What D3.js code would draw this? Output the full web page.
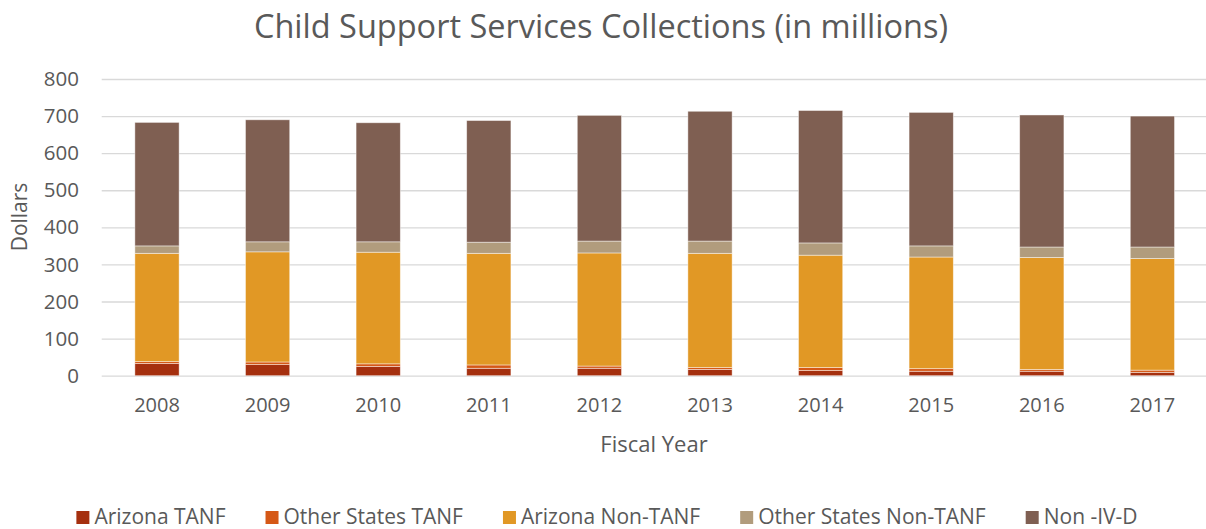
<!DOCTYPE html>
<html>
<head>
<meta charset="utf-8">
<script src="https://cdn.jsdelivr.net/npm/d3@7"></script>
<style>
  html, body { margin: 0; padding: 0; background: #fff; }
  svg { display: block; font-family: "Open Sans", "Noto Sans", sans-serif; }
</style>
</head>
<body>
<svg id="chart" width="1206" height="529"></svg>
<script>
// Fiscal years on the category axis
const years = ["2008", "2009", "2010", "2011", "2012", "2013", "2014", "2015", "2016", "2017"];

// Collections by source, in millions of dollars (stacked bottom to top)
const arizonaTanf        = [33, 30, 25, 20, 20, 17, 14, 12, 12, 9];
const otherStatesTanf    = [5, 7, 7, 9, 6, 5, 8, 7, 5, 6];
const arizonaNonTanf     = [292, 297, 301, 301, 305, 308, 303, 301, 302, 301];
const otherStatesNonTanf = [20, 27, 28, 30, 32, 33, 33, 30, 28, 31];
const nonIVD             = [333, 329, 321, 328, 339, 350, 357, 360, 356, 353];

const seriesNames = ["Arizona TANF", "Other States TANF", "Arizona Non-TANF", "Other States Non-TANF", "Non -IV-D"];
const seriesColors = ["#a5300f", "#d55816", "#e19825", "#b19c7d", "#7f5f52"];
const yTicks = [0, 100, 200, 300, 400, 500, 600, 700, 800];

const seriesValues = [arizonaTanf, otherStatesTanf, arizonaNonTanf, otherStatesNonTanf, nonIVD];
const rows = years.map((y, i) => {
  const r = { year: y };
  seriesNames.forEach((n, k) => { r[n] = seriesValues[k][i]; });
  return r;
});

const svg = d3.select("#chart");
const textColor = "#595959";

const plotLeft = 101.7, plotRight = 1207.7, plotTop = 79, plotBottom = 375.7;

const x = d3.scaleBand()
  .domain(years)
  .range([plotLeft, plotRight])
  .paddingInner(0.6)
  .paddingOuter(0.3);

const y = d3.scaleLinear()
  .domain([0, 800])
  .range([plotBottom, plotTop]);

// Horizontal gridlines and value labels
const yAxis = d3.axisLeft(y)
  .tickValues(yTicks)
  .tickSize(-(plotRight - plotLeft))
  .tickPadding(22.7)
  .tickFormat(d3.format("d"));

const gy = svg.append("g")
  .attr("transform", `translate(${plotLeft},0)`)
  .call(yAxis);
gy.select(".domain").remove();
gy.selectAll(".tick line").attr("stroke", "#d9d9d9").attr("stroke-width", 1.3);
gy.selectAll(".tick text")
  .attr("fill", textColor)
  .style("font-size", "20.5px")
  .style("font-family", "'Open Sans', sans-serif");

// Stacked bars
const stack = d3.stack().keys(seriesNames);
const layers = stack(rows);

svg.append("g")
  .selectAll("g")
  .data(layers)
  .join("g")
  .attr("fill", (d, i) => seriesColors[i])
  .selectAll("rect")
  .data(d => d)
  .join("rect")
  .attr("x", d => x(d.data.year))
  .attr("width", x.bandwidth())
  .attr("y", d => y(d[1]))
  .attr("height", d => y(d[0]) - y(d[1]))
  .attr("stroke", "#ffffff")
  .attr("stroke-opacity", 0.55)
  .attr("stroke-width", 0.8);

// Category labels
const xAxis = d3.axisBottom(x).tickSize(0).tickPadding(22);
const gx = svg.append("g")
  .attr("transform", `translate(0,${plotBottom})`)
  .call(xAxis);
gx.select(".domain").remove();
gx.selectAll(".tick text")
  .attr("fill", textColor)
  .style("font-size", "20px")
  .style("font-family", "'Open Sans', sans-serif");

// Title
svg.append("text")
  .attr("x", 601)
  .attr("y", 38)
  .attr("text-anchor", "middle")
  .attr("fill", textColor)
  .style("font-size", "32.5px")
  .text("Child Support Services Collections (in millions)");

// Axis titles
svg.append("text")
  .attr("x", 654)
  .attr("y", 452)
  .attr("text-anchor", "middle")
  .attr("fill", textColor)
  .style("font-size", "22px")
  .text("Fiscal Year");

svg.append("text")
  .attr("transform", "translate(27,217) rotate(-90)")
  .attr("text-anchor", "middle")
  .attr("fill", textColor)
  .style("font-size", "21px")
  .text("Dollars");

// Legend
const legend = svg.append("g");
const items = legend.selectAll("g")
  .data(seriesNames)
  .join("g");
items.append("rect")
  .attr("width", 13)
  .attr("height", 13)
  .attr("y", -13)
  .attr("fill", (d, i) => seriesColors[i]);
items.append("text")
  .attr("x", 18)
  .attr("y", 0)
  .attr("fill", textColor)
  .style("font-size", "21px")
  .text(d => d);

let cursor = 0;
items.each(function () {
  const g = d3.select(this);
  g.attr("transform", `translate(${cursor},0)`);
  const w = 18 + g.select("text").node().getComputedTextLength();
  cursor += w + 40;
});
const legendWidth = cursor - 40;
legend.attr("transform", `translate(${607 - legendWidth / 2},524)`);
</script>
</body>
</html>
